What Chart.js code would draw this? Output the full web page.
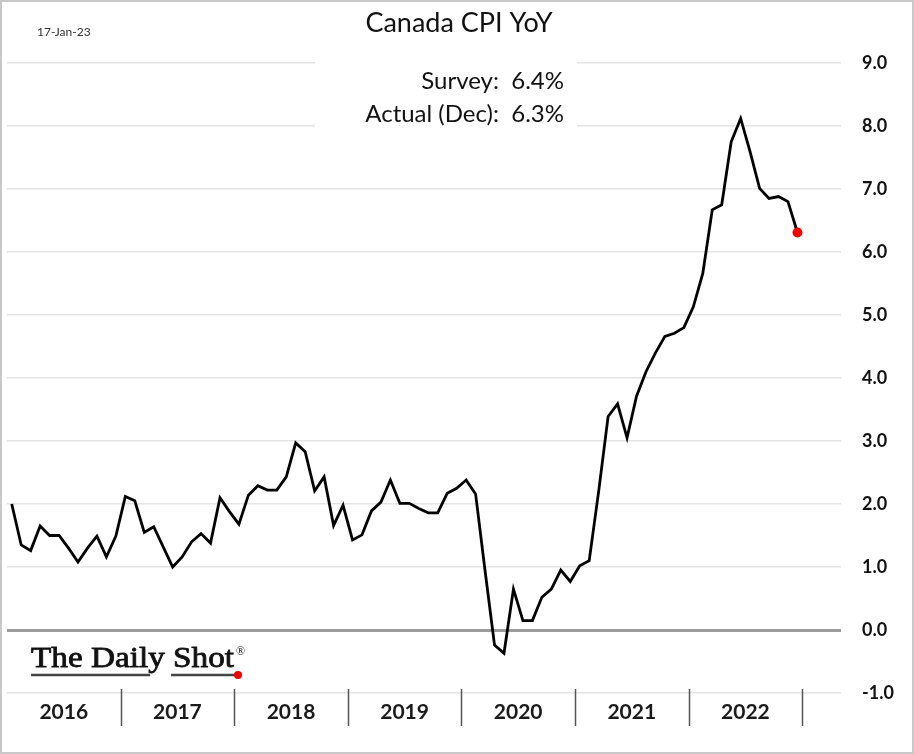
<!DOCTYPE html>
<html>
<head>
<meta charset="utf-8">
<script src="https://cdn.jsdelivr.net/npm/chart.js@4"></script>
<style>
  html, body { margin:0; padding:0; background:#fff; }
  canvas { display:block; }
</style>
</head>
<body>
<canvas id="cpiChart" width="914" height="754"></canvas>
<script>
// Canada CPI YoY, monthly
const years = ['2016', '2017', '2018', '2019', '2020', '2021', '2022'];
const cpi2016 = [2.0, 1.35, 1.26, 1.65, 1.5, 1.5, 1.3, 1.08, 1.3, 1.49, 1.16, 1.49];
const cpi2017 = [2.12, 2.05, 1.55, 1.64, 1.32, 1.0, 1.16, 1.4, 1.53, 1.38, 2.1, 1.88];
const cpi2018 = [1.68, 2.14, 2.29, 2.22, 2.22, 2.43, 2.97, 2.83, 2.21, 2.43, 1.66, 1.98];
const cpi2019 = [1.43, 1.51, 1.89, 2.03, 2.38, 2.01, 2.01, 1.93, 1.86, 1.86, 2.17, 2.25];
const cpi2020 = [2.38, 2.16, 0.94, -0.24, -0.37, 0.65, 0.15, 0.15, 0.52, 0.65, 0.95, 0.77];
const cpi2021 = [1.02, 1.1, 2.2, 3.39, 3.59, 3.05, 3.71, 4.1, 4.4, 4.66, 4.71, 4.8];
const cpi2022 = [5.13, 5.66, 6.67, 6.75, 7.75, 8.12, 7.59, 7.01, 6.85, 6.88, 6.8, 6.31];

const title = 'Canada CPI YoY';
const dateStamp = '17-Jan-23';
const surveyText = 'Survey:  6.4%';
const actualText = 'Actual (Dec):  6.3%';

const cpi = [].concat(cpi2016, cpi2017, cpi2018, cpi2019, cpi2020, cpi2021, cpi2022);
const points = cpi.map((v, i) => ({ x: i, y: v }));
const lastIdx = points.length - 1;

const ctx = document.getElementById('cpiChart').getContext('2d');

// Extra drawing: white box behind the note, year bands, texts, logo, frame
const decorPlugin = {
    id: 'decor',
    beforeDatasetsDraw(chart) {
        const c = chart.ctx;
        c.save();
        c.fillStyle = '#fff';
        c.fillRect(315, 52, 262, 86);
        c.restore();
    },
    afterDraw(chart) {
        const c = chart.ctx;
        const xs = chart.scales.x;
        const area = chart.chartArea;
        c.save();

        // year separators + labels
        c.strokeStyle = '#555';
        c.lineWidth = 1.5;
        years.forEach((yr, k) => {
            const xb = Math.round(xs.getPixelForValue(12 * (k + 1) - 0.5)) + 0.5;
            c.beginPath();
            c.moveTo(xb, area.bottom - 4);
            c.lineTo(xb, area.bottom + 33);
            c.stroke();
            c.fillStyle = '#1a1a1a';
            c.font = 'bold 21px Lato';
            c.textAlign = 'center';
            c.textBaseline = 'middle';
            c.fillText(yr, xs.getPixelForValue(12 * k + 5.5), area.bottom + 19);
        });

        // title
        c.fillStyle = '#111';
        c.font = '27px Lato';
        c.textAlign = 'center';
        c.textBaseline = 'middle';
        c.fillText(title, 459, 23);

        // date stamp
        c.fillStyle = '#333';
        c.font = '12px Lato';
        c.textAlign = 'left';
        c.fillText(dateStamp, 37, 32);

        // survey / actual note
        c.fillStyle = '#111';
        c.font = '24px Lato';
        c.textAlign = 'right';
        c.textBaseline = 'alphabetic';
        c.fillText(surveyText, 564, 89);
        c.fillText(actualText, 564, 122);

        // logo, stretched to the width it has in the picture
        const lx = 31, ly = 667;
        c.font = '30px "Liberation Serif"';
        c.textAlign = 'left';
        const wRaw = c.measureText('The Daily Shot').width;
        const sx = 203 / wRaw;
        const wDail = c.measureText('The Dail').width * sx;
        const wDaily = c.measureText('The Daily ').width * sx;
        const wAll = 203;
        c.save();
        c.translate(lx, ly);
        c.scale(sx, 1);
        c.fillStyle = '#111';
        c.strokeStyle = '#111';
        c.lineWidth = 0.8;
        c.fillText('The Daily Shot', 0, 0);
        c.strokeText('The Daily Shot', 0, 0);
        c.restore();
        c.fillStyle = '#111';
        c.font = '12px "Liberation Serif"';
        c.fillText('®', lx + wAll + 2, ly - 12);
        c.strokeStyle = '#444';
        c.lineWidth = 2.5;
        c.beginPath();
        c.moveTo(lx, ly + 8); c.lineTo(lx + wDail + 2, ly + 8);
        c.moveTo(lx + wDaily - 2, ly + 8); c.lineTo(lx + wAll + 2, ly + 8);
        c.stroke();
        c.fillStyle = '#e00';
        c.beginPath();
        c.arc(lx + wAll + 4, ly + 8, 4, 0, Math.PI * 2);
        c.fill();

        // frame
        c.strokeStyle = '#c8c8c8';
        c.lineWidth = 2;
        c.strokeRect(1, 1, chart.width - 2, chart.height - 2);
        c.restore();
    }
};

new Chart(ctx, {
    type: 'line',
    data: {
        datasets: [{
            data: points,
            borderColor: '#000',
            borderWidth: 2.8,
            tension: 0,
            fill: false,
            pointRadius: c => c.dataIndex === lastIdx ? 5 : 0,
            pointBackgroundColor: '#f00',
            pointBorderWidth: 0
        }]
    },
    options: {
        responsive: false,
        animation: false,
        devicePixelRatio: 1,
        layout: { padding: { top: 63, bottom: 61, left: 7, right: 0 } },
        plugins: { legend: { display: false }, tooltip: { enabled: false } },
        scales: {
            x: { type: 'linear', min: -0.5, max: 87.6, display: false },
            y: {
                position: 'right',
                min: -1,
                max: 9,
                afterFit: s => { s.width = 73; },
                ticks: {
                    stepSize: 1,
                    padding: 21,
                    color: '#111',
                    font: { family: 'Lato', weight: 'bold', size: 18 },
                    callback: v => v.toFixed(1)
                },
                grid: {
                    drawTicks: false,
                    color: c => c.tick.value === 0 ? '#9a9a9a' : '#e4e4e4',
                    lineWidth: c => c.tick.value === 0 ? 3 : 1.5
                },
                border: { display: false }
            }
        }
    },
    plugins: [decorPlugin]
});
</script>
</body>
</html>
